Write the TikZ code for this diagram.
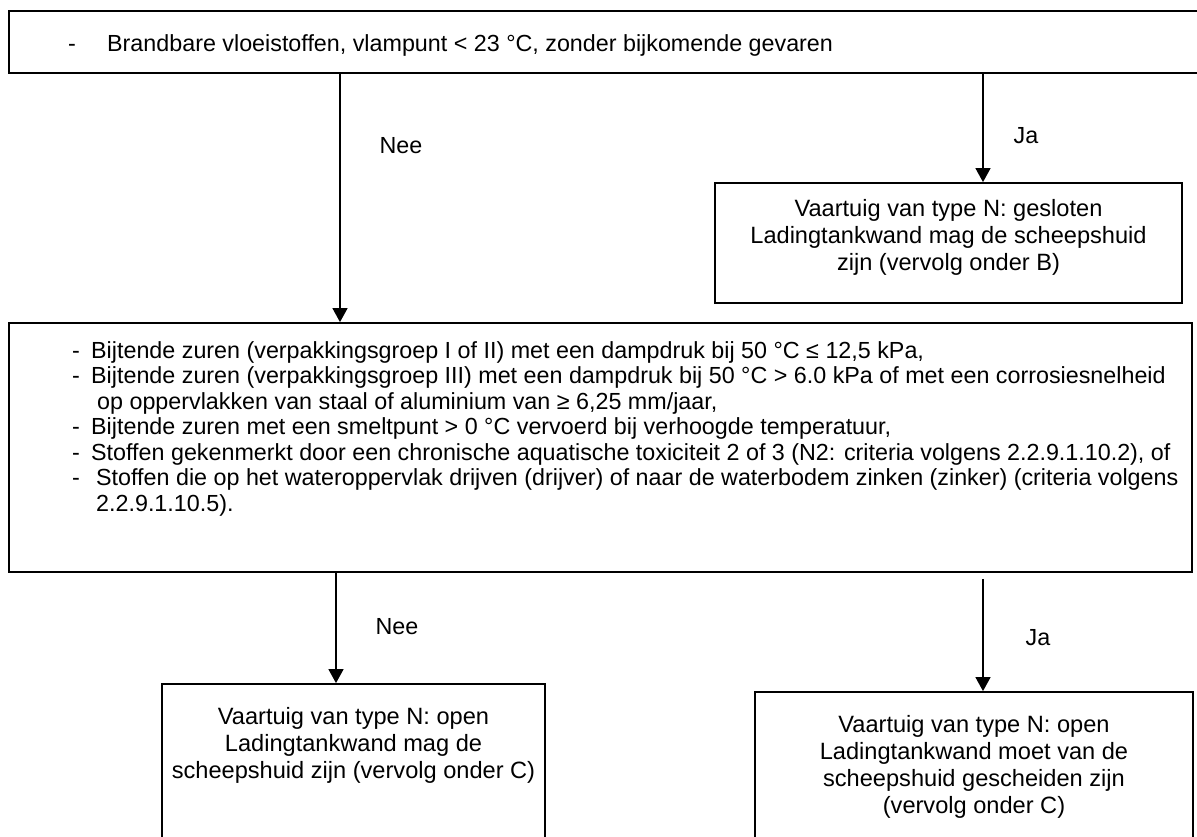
\documentclass[tikz,border=0pt]{standalone}
\usepackage{fontspec}
\setmainfont{Liberation Sans}
\usetikzlibrary{arrows.meta}
\tikzset{
  box/.style={draw, line width=1.8pt, inner sep=0pt},
  arr/.style={line width=1.4pt, -{Triangle[length=14pt,width=15pt]}},
  lbl/.style={font=\fontsize{23.3}{26}\selectfont, inner sep=0pt},
  txt/.style={font=\fontsize{23.6}{27}\selectfont, inner sep=0pt, align=center, anchor=north},
  ltxt/.style={font=\fontsize{23.3}{25.5}\selectfont, inner sep=0pt, align=left, anchor=north west},
}
\begin{document}
\begin{tikzpicture}[x=1pt,y=-1pt]
\useasboundingbox[fill=white] (0,0) rectangle (1197,836);
% boxes
\node[box, minimum width=1201pt, minimum height=62pt] (top) at (609.5,42) {};
\node[box, minimum width=467pt, minimum height=120pt] (ja1) at (948.5,243) {};
\node[box, minimum width=1183pt, minimum height=249pt] (mid) at (600.5,447.5) {};
\node[box, minimum width=383pt, minimum height=160pt] (nee2) at (353.5,764) {};
\node[box, minimum width=438pt, minimum height=152pt] (ja2) at (974,768) {};
% texts
\node[ltxt] (toptext) at (68,34) {\makebox[39pt][l]{-}Brandbare vloeistoffen, vlampunt < 23 °C, zonder bijkomende gevaren};
\node[txt] (ja1text) at (948.5,199) {Vaartuig van type N: gesloten\\Ladingtankwand mag de scheepshuid\\zijn (vervolg onder B)};
\node[ltxt] (midtext) at (72,341) {%
\makebox[19pt][l]{-}Bijtende zuren (verpakkingsgroep I of II) met een dampdruk bij 50 °C ≤ 12,5 kPa,\\
\makebox[19pt][l]{-}Bijtende zuren (verpakkingsgroep III) met een dampdruk bij 50 °C > 6.0 kPa of met een corrosiesnelheid\\
\hspace*{25pt}op oppervlakken van staal of aluminium van ≥ 6,25 mm/jaar,\\
\makebox[19pt][l]{-}Bijtende zuren met een smeltpunt > 0 °C vervoerd bij verhoogde temperatuur,\\
\makebox[19pt][l]{-}Stoffen gekenmerkt door een chronische aquatische toxiciteit 2 of 3 (N2: criteria volgens 2.2.9.1.10.2), of\\
\makebox[24pt][l]{-}Stoffen die op het wateroppervlak drijven (drijver) of naar de waterbodem zinken (zinker) (criteria volgens\\
\hspace*{24pt}2.2.9.1.10.5).};
\node[txt] (nee2text) at (353.5,707) {Vaartuig van type N: open\\Ladingtankwand mag de\\scheepshuid zijn (vervolg onder C)};
\node[txt] (ja2text) at (974,715) {Vaartuig van type N: open\\Ladingtankwand moet van de\\scheepshuid gescheiden zijn\\(vervolg onder C)};
% connectors
\draw[arr] (top.south -| 340,0) -- (mid.north -| 340,0);
\draw[arr] (top.south -| 983,0) -- (ja1.north -| 983,0);
\draw[arr] (mid.south -| 336,0) -- (nee2.north -| 336,0);
\draw[arr, shorten <=6pt] (mid.south -| 983,0) -- (ja2.north -| 983,0);
% labels
\node[lbl] (l1) at (401,146) {Nee};
\node[lbl] (l2) at (1026,136) {Ja};
\node[lbl] (l3) at (397,627) {Nee};
\node[lbl] (l4) at (1038,638) {Ja};
\end{tikzpicture}
\end{document}
